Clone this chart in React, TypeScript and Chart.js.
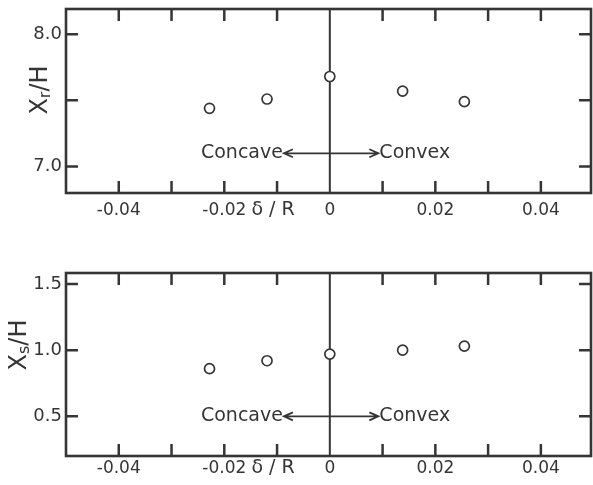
import React, { useEffect, useRef } from "react";
import { Chart, registerables } from "chart.js";
Chart.register(...registerables);

// ---- data ----
const deltaR = [-0.0228, -0.0119, 0, 0.0138, 0.0255];
const xrOverH = [7.44, 7.51, 7.68, 7.57, 7.49];
const xsOverH = [0.86, 0.92, 0.97, 1.0, 1.03];

const xTickValues = [-0.04, -0.02, 0, 0.02, 0.04];
const xTickLabels = ["-0.04", "-0.02", "0", "0.02", "0.04"];
const xMarkValues = [-0.04, -0.03, -0.02, -0.01, 0.01, 0.02, 0.03, 0.04];

const topYTickValues = [7.0, 7.5, 8.0];
const topYTickLabels = ["7.0", "", "8.0"];
const botYTickValues = [0.5, 1.0, 1.5];
const botYTickLabels = ["0.5", "1.0", "1.5"];

const arrowSpan = [-0.0087, 0.0092];
const topArrowY = 7.1;
const botArrowY = 0.5;

const INK = "#353535";
const FONT = "'DejaVu Sans', sans-serif";

type PanelCfg = {
  values: number[];
  yMin: number;
  yMax: number;
  yTicks: number[];
  yLabels: string[];
  arrowY: number;
  titleSub: string;
  titleX: number;
  titleY: number;
  padTop: number;
  xAxisHeight: number;
  tickPad: number;
};

function makePlugin(cfg: PanelCfg) {
  return {
    id: "panelDecor",
    beforeDatasetsDraw(chart: any) {
      const { ctx, chartArea: a, scales } = chart;
      const xs = scales.x;
      const ys = scales.y;
      ctx.save();
      ctx.strokeStyle = INK;
      ctx.fillStyle = INK;
      // zero line
      ctx.lineWidth = 2;
      const x0 = xs.getPixelForValue(0);
      ctx.beginPath();
      ctx.moveTo(x0, a.top);
      ctx.lineTo(x0, a.bottom);
      ctx.stroke();
      // inward tick marks
      ctx.lineWidth = 2.5;
      const tl = 12;
      xMarkValues.forEach((v) => {
        const px = xs.getPixelForValue(v);
        ctx.beginPath();
        ctx.moveTo(px, a.top);
        ctx.lineTo(px, a.top + tl);
        ctx.moveTo(px, a.bottom);
        ctx.lineTo(px, a.bottom - tl);
        ctx.stroke();
      });
      cfg.yTicks.forEach((v) => {
        const py = ys.getPixelForValue(v);
        ctx.beginPath();
        ctx.moveTo(a.left, py);
        ctx.lineTo(a.left + tl, py);
        ctx.moveTo(a.right, py);
        ctx.lineTo(a.right - tl, py);
        ctx.stroke();
      });
      // double arrow
      const ay = ys.getPixelForValue(cfg.arrowY);
      const axL = xs.getPixelForValue(arrowSpan[0]);
      const axR = xs.getPixelForValue(arrowSpan[1]);
      ctx.lineWidth = 1.8;
      ctx.beginPath();
      ctx.moveTo(axL, ay);
      ctx.lineTo(axR, ay);
      ctx.moveTo(axL + 9, ay - 4);
      ctx.lineTo(axL, ay);
      ctx.lineTo(axL + 9, ay + 4);
      ctx.moveTo(axR - 9, ay - 4);
      ctx.lineTo(axR, ay);
      ctx.lineTo(axR - 9, ay + 4);
      ctx.stroke();
      ctx.font = `19px ${FONT}`;
      ctx.textBaseline = "middle";
      ctx.textAlign = "right";
      ctx.fillText("Concave", axL - 1, ay);
      ctx.textAlign = "left";
      ctx.fillText("Convex", axR + 1, ay);
      // x-axis title
      ctx.font = `19px ${FONT}`;
      ctx.textAlign = "center";
      ctx.textBaseline = "top";
      ctx.fillText("\u03b4 / R", xs.getPixelForValue(-0.01) - 4, a.bottom + cfg.tickPad + 1);
      // y-axis title with subscript
      ctx.translate(cfg.titleX, cfg.titleY);
      ctx.rotate(-Math.PI / 2);
      ctx.textBaseline = "alphabetic";
      ctx.textAlign = "left";
      ctx.font = `24px ${FONT}`;
      const wX = ctx.measureText("X").width;
      ctx.font = `16px ${FONT}`;
      const wS = ctx.measureText(cfg.titleSub).width;
      ctx.font = `24px ${FONT}`;
      const wR = ctx.measureText("/H").width;
      const total = wX + wS + wR;
      let cx = -total / 2;
      const base = 9;
      ctx.fillText("X", cx, base);
      cx += wX;
      ctx.font = `16px ${FONT}`;
      ctx.fillText(cfg.titleSub, cx, base + 3);
      cx += wS;
      ctx.font = `24px ${FONT}`;
      ctx.fillText("/H", cx, base);
      ctx.restore();
    },
    afterDatasetsDraw(chart: any) {
      const { ctx, chartArea: a } = chart;
      ctx.save();
      ctx.strokeStyle = INK;
      ctx.lineWidth = 2.6;
      ctx.strokeRect(a.left, a.top, a.right - a.left, a.bottom - a.top);
      ctx.restore();
    },
  };
}

function Panel({ cfg, height }: { cfg: PanelCfg; height: number }) {
  const ref = useRef<HTMLCanvasElement | null>(null);
  useEffect(() => {
    if (!ref.current) return;
    const chart = new Chart(ref.current, {
      type: "scatter",
      data: {
        datasets: [
          {
            data: deltaR.map((x, i) => ({ x, y: cfg.values[i] })),
            pointStyle: "circle",
            pointRadius: 5,
            pointBorderWidth: 1.7,
            borderColor: INK,
            backgroundColor: "#ffffff",
            showLine: false,
          } as any,
        ],
      },
      options: {
        animation: false,
        responsive: false,
        layout: { autoPadding: false, padding: { top: cfg.padTop, right: 2, left: 0, bottom: 0 } },
        plugins: { legend: { display: false }, tooltip: { enabled: false } },
        scales: {
          x: {
            type: "linear",
            min: -0.05,
            max: 0.0495,
            grid: { display: false, drawTicks: false },
            border: { display: false },
            afterBuildTicks: (s: any) => {
              s.ticks = xTickValues.map((v) => ({ value: v }));
            },
            afterFit: (s: any) => {
              s.height = cfg.xAxisHeight;
              s.paddingLeft = 0;
              s.paddingRight = 0;
            },
            ticks: {
              padding: cfg.tickPad,
              color: INK,
              font: { family: FONT, size: 17 },
              maxRotation: 0,
              autoSkip: false,
              callback: (_v: any, i: number) => xTickLabels[i],
            },
          },
          y: {
            type: "linear",
            min: cfg.yMin,
            max: cfg.yMax,
            grid: { display: false, drawTicks: false },
            border: { display: false },
            afterBuildTicks: (s: any) => {
              s.ticks = cfg.yTicks.map((v) => ({ value: v }));
            },
            afterFit: (s: any) => {
              s.width = 66;
              s.paddingTop = 0;
              s.paddingBottom = 0;
            },
            ticks: {
              padding: 4,
              color: INK,
              font: { family: FONT, size: 18 },
              autoSkip: false,
              callback: (_v: any, i: number) => cfg.yLabels[i],
            },
          },
        },
      },
      plugins: [makePlugin(cfg) as any],
    });
    return () => chart.destroy();
  }, []);
  return <canvas ref={ref} width={593} height={height} style={{ display: "block" }} />;
}

const topCfg: PanelCfg = {
  values: xrOverH,
  yMin: 6.8,
  yMax: 8.19,
  yTicks: topYTickValues,
  yLabels: topYTickLabels,
  arrowY: topArrowY,
  titleSub: "r",
  titleX: 38,
  titleY: 90,
  padTop: 9,
  xAxisHeight: 47,
  tickPad: 7,
};

const botCfg: PanelCfg = {
  values: xsOverH,
  yMin: 0.2,
  yMax: 1.583,
  yTicks: botYTickValues,
  yLabels: botYTickLabels,
  arrowY: botArrowY,
  titleSub: "s",
  titleX: 17,
  titleY: 105,
  padTop: 33,
  xAxisHeight: 29,
  tickPad: 2,
};

export default function App() {
  return (
    <div style={{ position: "absolute", left: 0, top: 0, width: 593, height: 485, background: "#fff" }}>
      <Panel cfg={topCfg} height={240} />
      <Panel cfg={botCfg} height={245} />
    </div>
  );
}
